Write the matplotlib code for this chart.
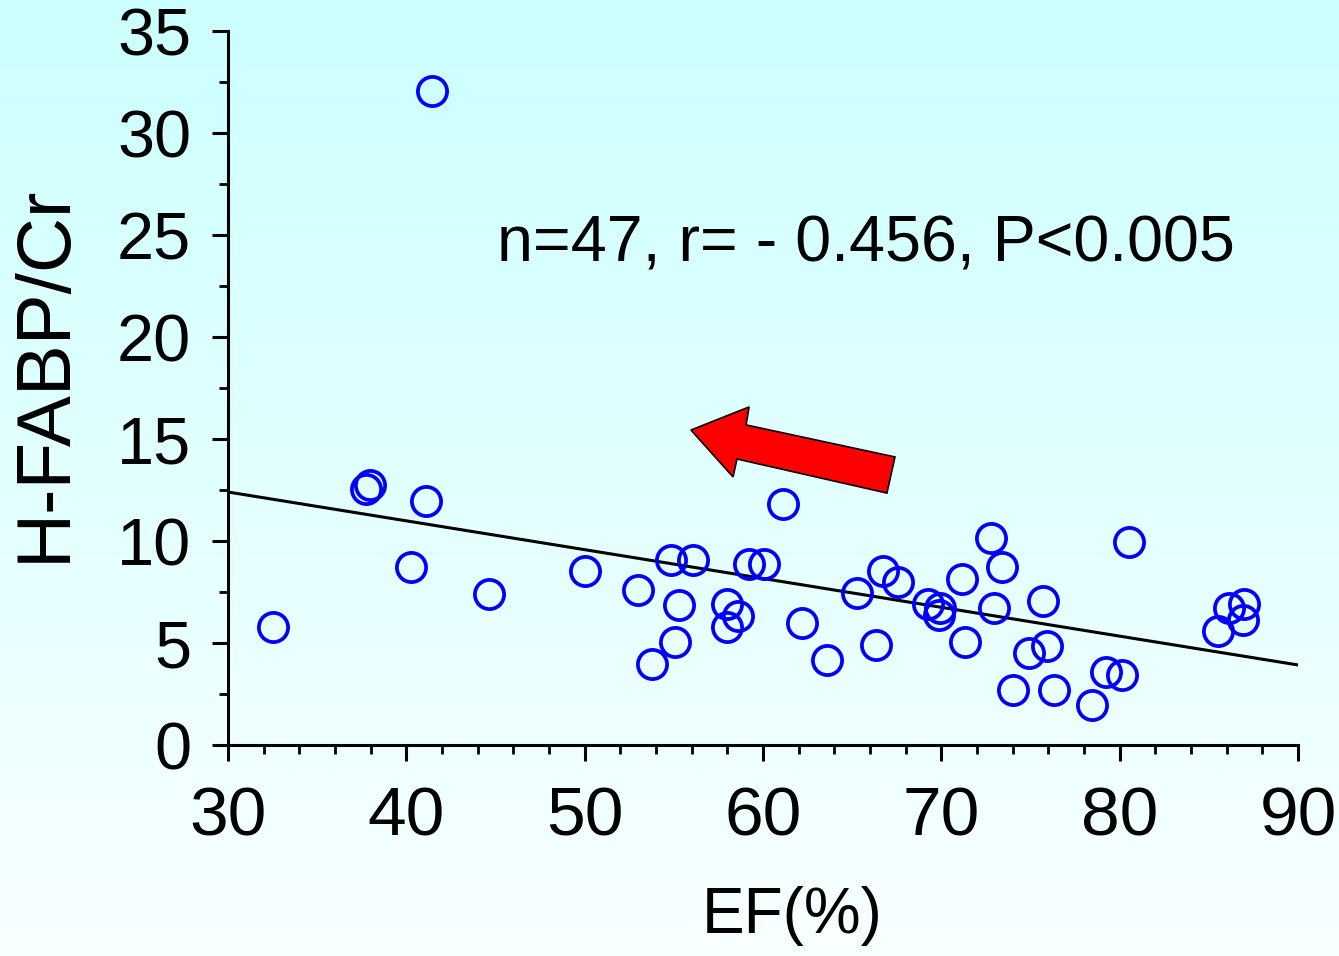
import numpy as np
import matplotlib
matplotlib.use("Agg")
import matplotlib.pyplot as plt
from matplotlib.patches import Polygon

plt.rcParams['font.family'] = ['Liberation Sans', 'DejaVu Sans']

# ---- data ----
ef = [32.52, 41.44, 37.74, 37.96, 41.10, 40.26, 44.64, 50.02, 52.99, 53.78,
      54.84, 56.08, 55.29, 55.07, 59.22, 60.06, 57.98, 58.60, 57.98, 61.12,
      62.19, 63.59, 65.27, 66.34, 66.73, 67.57, 69.25, 69.93, 69.87, 71.16,
      71.33, 72.79, 73.40, 72.95, 75.70, 80.52, 74.92, 75.93, 74.02, 76.32,
      78.45, 79.23, 80.13, 86.13, 86.97, 86.92, 85.51]
hfabp = [5.78, 32.06, 12.55, 12.75, 11.96, 8.73, 7.40, 8.53, 7.60, 3.97,
         9.07, 9.07, 6.86, 5.05, 8.87, 8.87, 6.91, 6.32, 5.78, 11.81,
         5.98, 4.17, 7.45, 4.90, 8.53, 7.99, 6.91, 6.72, 6.37, 8.14,
         5.05, 10.15, 8.73, 6.72, 7.06, 9.95, 4.51, 4.85, 2.70, 2.70,
         1.96, 3.58, 3.43, 6.72, 6.91, 6.13, 5.59]

fit_intercept = 16.64   # value of regression line at EF = 0
fit_slope = -0.1413
fit_x = [30, 90]

x_ticks = [30, 40, 50, 60, 70, 80, 90]
y_ticks = [0, 5, 10, 15, 20, 25, 30, 35]

annotation = "n=47, r= - 0.456, P<0.005"
xlabel = "EF(%)"
ylabel = "H-FABP/Cr"

# arrow outline (data units)
arrow_x = [55.96, 59.22, 59.05, 67.40, 66.95, 58.54, 58.32]
arrow_y = [15.44, 16.57, 15.69, 14.12, 12.35, 14.02, 13.14]

# ---- figure ----
W, H, DPI = 1339, 956, 100
fig = plt.figure(figsize=(W / DPI, H / DPI), dpi=DPI)

# gradient background
bg = fig.add_axes([0, 0, 1, 1], zorder=-10)
top = np.array([0.80, 1.0, 1.0])
bot = np.array([0.975, 1.0, 1.0])
t = np.linspace(0, 1, 256)[:, None]
grad = (top[None, :] * (1 - t) + bot[None, :] * t)[:, None, :]
bg.imshow(grad, aspect='auto', extent=[0, 1, 0, 1])
bg.axis('off')

ax = fig.add_axes([228 / W, 1 - 745 / H, (1298 - 228) / W, (745 - 31) / H])
ax.patch.set_alpha(0)

ax.plot(ef, hfabp, linestyle='none', marker='o', markersize=21,
        markerfacecolor='none', markeredgecolor='#0000ff', markeredgewidth=2.7,
        clip_on=False, zorder=3)

fy = [fit_intercept + fit_slope * v for v in fit_x]
ax.plot(fit_x, fy, color='black', linewidth=2.2, zorder=2)

ax.add_patch(Polygon(list(zip(arrow_x, arrow_y)), closed=True,
                     facecolor='#ff0000', edgecolor='black', linewidth=1.2, zorder=4))

ax.text(45.08, 23.68, annotation, fontsize=46.5, ha='left', va='baseline')

ax.set_xlim(30, 90)
ax.set_ylim(0, 35)
ax.set_xticks(x_ticks)
ax.set_yticks(y_ticks)
ax.set_xticks(np.arange(30, 90.1, 2), minor=True)
ax.set_yticks(np.arange(0, 35.1, 2.5), minor=True)

for s in ['top', 'right']:
    ax.spines[s].set_visible(False)
for s in ['left', 'bottom']:
    ax.spines[s].set_linewidth(2.2)

ax.tick_params(axis='both', which='major', direction='out', length=11.5, width=2.2)
ax.tick_params(axis='both', which='minor', direction='out', length=6.5, width=2.0)
ax.tick_params(axis='x', which='major', labelsize=50, pad=18)
ax.tick_params(axis='y', which='major', labelsize=48, pad=15)

ax.set_xlabel(xlabel, fontsize=46, va='center', ha='center')
ax.xaxis.set_label_coords(0.527, -0.239)
ax.set_ylabel(ylabel, fontsize=55, va='center', ha='center')
ax.yaxis.set_label_coords(-0.171, 0.52)

fig.savefig('out.png', dpi=DPI)
